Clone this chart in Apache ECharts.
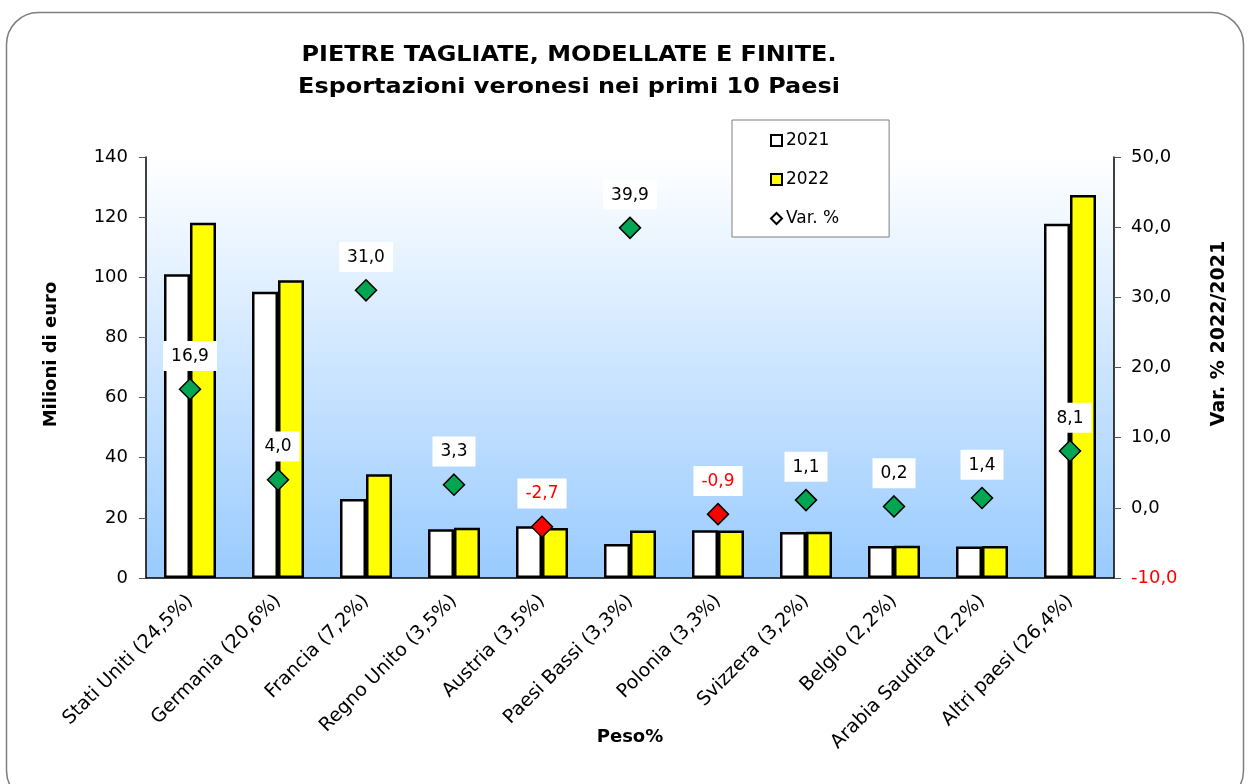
<!DOCTYPE html>
<html>
<head>
<meta charset="utf-8">
<script src="https://cdn.jsdelivr.net/npm/echarts@6/dist/echarts.min.js"></script>
<style>
  html, body { margin: 0; padding: 0; background: #fff; }
  #chart { width: 1250px; height: 784px; }
</style>
</head>
<body>
<div id="chart"></div>
<script>
var categories = ['Stati Uniti (24,5%)', 'Germania (20,6%)', 'Francia (7,2%)', 'Regno Unito (3,5%)',
  'Austria (3,5%)', 'Paesi Bassi (3,3%)', 'Polonia (3,3%)', 'Svizzera (3,2%)', 'Belgio (2,2%)',
  'Arabia Saudita (2,2%)', 'Altri paesi (26,4%)'];
var values2021 = [101.0, 95.2, 26.3, 16.2, 17.2, 11.3, 15.9, 15.3, 10.6, 10.5, 117.8];
var values2022 = [118.1, 99.0, 34.5, 16.7, 16.6, 15.8, 15.8, 15.4, 10.7, 10.6, 127.4];
var varPct = [16.9, 4.0, 31.0, 3.3, -2.7, 39.9, -0.9, 1.1, 0.2, 1.4, 8.1];

var FONT = 'DejaVu Sans';

function comma(v) { return v.toFixed(1).replace('.', ','); }

var varData = varPct.map(function(v) {
  var neg = v < 0;
  return {
    value: v,
    itemStyle: { color: neg ? '#ff0000' : '#00a651' },
    label: { color: neg ? '#ff0000' : '#000' }
  };
});

var chart = echarts.init(document.getElementById('chart'));

chart.setOption({
  backgroundColor: '#fff',
  animation: false,
  graphic: [
    {
      type: 'rect', z: -10,
      shape: { x: 6.5, y: 12.5, width: 1237, height: 790, r: 32 },
      style: { fill: '#fff', stroke: '#7f7f7f', lineWidth: 1.5 }
    },
    {
      type: 'text', x: 569, y: 56, scaleX: 1.14,
      style: { text: 'PIETRE TAGLIATE, MODELLATE E FINITE.', font: 'bold 21px "DejaVu Sans"',
        fill: '#000', align: 'center', verticalAlign: 'middle' }
    },
    {
      type: 'text', x: 569, y: 88, scaleX: 1.14,
      style: { text: 'Esportazioni veronesi nei primi 10 Paesi', font: 'bold 21px "DejaVu Sans"',
        fill: '#000', align: 'center', verticalAlign: 'middle' }
    }
  ],
  legend: {
    orient: 'vertical',
    left: 732, top: 120,
    padding: [12, 50, 10, 38],
    itemWidth: 11, itemHeight: 11, itemGap: 22,
    backgroundColor: '#fff',
    borderColor: '#7f7f7f', borderWidth: 1,
    textStyle: { fontFamily: FONT, fontSize: 17, color: '#000', padding: [0, 0, 0, -1] },
    data: [
      { name: '2021', icon: 'rect' },
      { name: '2022', icon: 'rect' },
      { name: 'Var. %', icon: 'diamond', itemStyle: { color: '#fff', borderColor: '#000', borderWidth: 2 } }
    ]
  },
  grid: {
    left: 146, right: 136, top: 157, bottom: 206,
    show: true, borderWidth: 0,
    backgroundColor: new echarts.graphic.LinearGradient(0, 0, 0, 1, [
      { offset: 0, color: '#ffffff' },
      { offset: 1, color: '#99cbff' }
    ])
  },
  xAxis: {
    type: 'category',
    data: categories,
    name: 'Peso%',
    nameLocation: 'middle',
    nameGap: 150,
    nameMoveOverlap: false,
    nameTextStyle: { fontFamily: FONT, fontWeight: 'bold', fontSize: 18, color: '#000' },
    axisLine: { lineStyle: { color: '#000', width: 1.5 } },
    axisTick: { length: 8, lineStyle: { color: '#555' } },
    axisLabel: { rotate: 45, fontFamily: FONT, fontSize: 19, color: '#000', margin: 20, interval: 0 },
    splitLine: { show: false }
  },
  yAxis: [
    {
      type: 'value', min: 0, max: 140, interval: 20,
      name: 'Milioni di euro',
      nameLocation: 'middle', nameRotate: 90, nameGap: 86,
      nameTextStyle: { fontFamily: FONT, fontWeight: 'bold', fontSize: 18, color: '#000', padding: [0, 0, 0, 26] },
      axisLine: { show: true, lineStyle: { color: '#000', width: 1.5 } },
      axisTick: { show: true, length: 7, lineStyle: { color: '#555' } },
      axisLabel: { fontFamily: FONT, fontSize: 18, color: '#000', margin: 18 },
      splitLine: { show: false }
    },
    {
      type: 'value', min: -10, max: 50, interval: 10,
      name: 'Var. % 2022/2021',
      nameLocation: 'middle', nameRotate: 90, nameGap: 96,
      nameTextStyle: { fontFamily: FONT, fontWeight: 'bold', fontSize: 19, color: '#000', padding: [0, 0, 0, 68] },
      axisLine: { show: true, lineStyle: { color: '#000', width: 1.5 } },
      axisTick: { show: true, length: 7, lineStyle: { color: '#555' } },
      axisLabel: {
        fontFamily: FONT, fontSize: 18, margin: 17,
        formatter: function(v) { return comma(v); },
        color: function(v) { return Number(v) < 0 ? '#ff0000' : '#000'; }
      },
      splitLine: { show: false }
    }
  ],
  series: [
    {
      name: '2021', type: 'bar', data: values2021,
      barWidth: 26, barGap: '0%',
      itemStyle: { color: '#fff', borderColor: '#000', borderWidth: 2.5 }
    },
    {
      name: '2022', type: 'bar', data: values2022,
      barWidth: 26,
      itemStyle: { color: '#ffff00', borderColor: '#000', borderWidth: 2.5 }
    },
    {
      name: 'Var. %', type: 'scatter', yAxisIndex: 1, data: varData,
      symbol: 'diamond', symbolSize: 21, z: 5,
      itemStyle: { color: '#00a651', borderColor: '#000', borderWidth: 1.5, opacity: 1 },
      label: {
        show: true, position: 'top', distance: 7,
        formatter: function(p) { return comma(p.value); },
        fontFamily: FONT, fontSize: 17,
        backgroundColor: '#fff', padding: [7, 8, 6, 8]
      }
    }
  ]
});
</script>
</body>
</html>
